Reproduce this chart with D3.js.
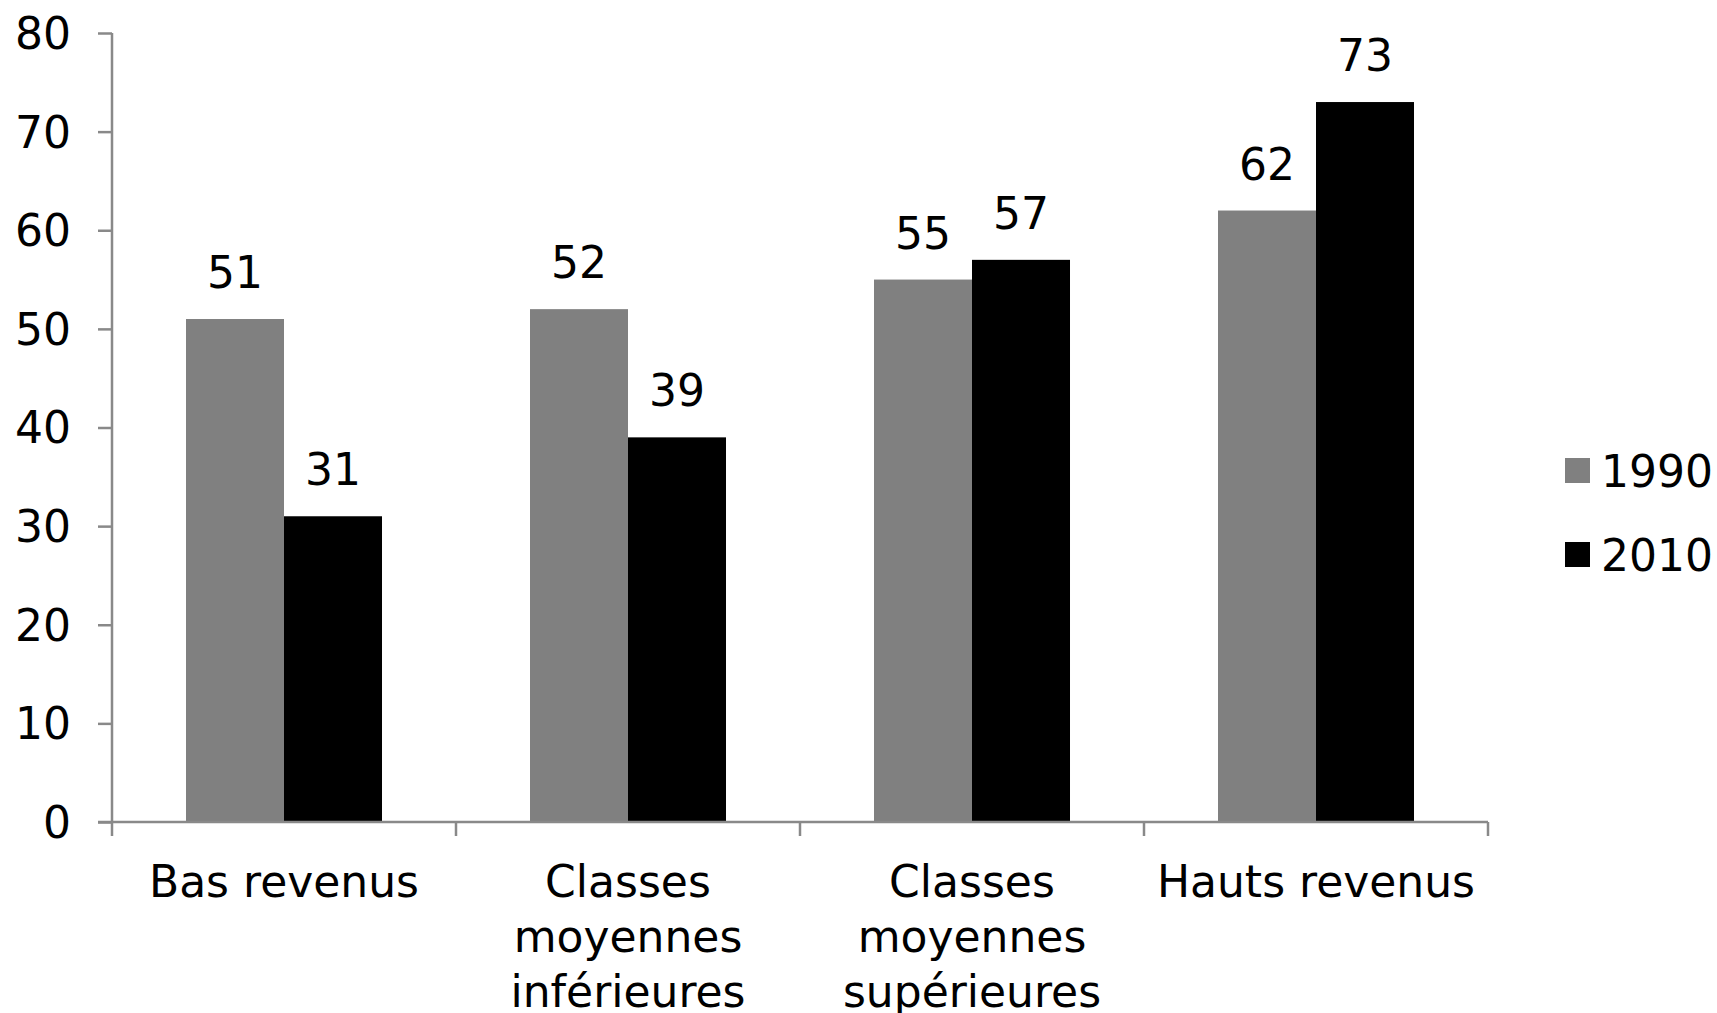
<!DOCTYPE html>
<html>
<head>
<meta charset="utf-8">
<script src="https://cdn.jsdelivr.net/npm/d3@7"></script>
<style>
  html, body { margin: 0; padding: 0; background: #fff; }
  svg { display: block; font-family: "DejaVu Sans", Verdana, sans-serif; }
</style>
</head>
<body>
<svg id="chart" width="1717" height="1013"></svg>
<script>
// Income groups and their values for the two years
const categories = ["Bas revenus", "Classes moyennes inférieures", "Classes moyennes supérieures", "Hauts revenus"];
const categoryLines = [["Bas revenus"], ["Classes", "moyennes", "inférieures"], ["Classes", "moyennes", "supérieures"], ["Hauts revenus"]];
const series = ["1990", "2010"];
const values1990 = [51, 52, 55, 62];
const values2010 = [31, 39, 57, 73];
const yTicks = [0, 10, 20, 30, 40, 50, 60, 70, 80];
const seriesColors = ["#808080", "#000000"];

(function () {
  const svg = d3.select("#chart");
  const axisColor = "#898989";
  const fontSize = 44;

  const plotLeft = 112, plotRight = 1488, plotTop = 33, plotBottom = 822;

  const x0 = d3.scaleBand().domain(categories).range([plotLeft, plotRight]).padding(0);
  const x1 = d3.scaleBand().domain(series).range([0, x0.bandwidth()]).paddingInner(0).paddingOuter(0.755);
  const y = d3.scaleLinear().domain([0, 80]).range([plotBottom, plotTop]);
  const color = d3.scaleOrdinal().domain(series).range(seriesColors);

  const rows = categories.map((c, i) => ({ category: c, values: [
    { key: "1990", value: values1990[i] },
    { key: "2010", value: values2010[i] }
  ]}));

  // Bars
  const groups = svg.append("g").selectAll("g")
    .data(rows).join("g")
    .attr("transform", d => `translate(${x0(d.category)},0)`);

  groups.selectAll("rect")
    .data(d => d.values).join("rect")
    .attr("x", d => x1(d.key))
    .attr("y", d => y(d.value))
    .attr("width", x1.bandwidth())
    .attr("height", d => y(0) - y(d.value))
    .attr("fill", d => color(d.key));

  // Value labels above bars
  groups.selectAll("text.val")
    .data(d => d.values).join("text")
    .attr("class", "val")
    .attr("x", d => x1(d.key) + x1.bandwidth() / 2)
    .attr("y", d => y(d.value) - 31)
    .attr("text-anchor", "middle")
    .attr("font-size", fontSize)
    .attr("fill", "#000")
    .text(d => d.value);

  // Y axis
  const yAxis = svg.append("g")
    .attr("transform", `translate(${plotLeft},0)`)
    .call(d3.axisLeft(y).tickValues(yTicks).tickSize(14).tickPadding(27));
  yAxis.select(".domain").attr("stroke", axisColor).attr("stroke-width", 2.5)
    .attr("d", `M0,${plotTop}V${plotBottom}`);
  yAxis.selectAll(".tick line").attr("stroke", axisColor).attr("stroke-width", 2.5);
  yAxis.selectAll(".tick text")
    .attr("font-size", fontSize).attr("fill", "#000")
    .attr("font-family", "DejaVu Sans, Verdana, sans-serif")
    .attr("dy", "0.35em");

  // X axis with tick marks at category boundaries
  const xAxis = svg.append("g")
    .attr("transform", `translate(0,${plotBottom})`)
    .call(d3.axisBottom(x0).tickSize(0).tickFormat(""));
  xAxis.select(".domain").attr("stroke", axisColor).attr("stroke-width", 2.5)
    .attr("d", `M${plotLeft - 14},0H${plotRight}`);
  xAxis.selectAll(".tick").remove();

  const boundaries = categories.map(c => x0(c)).concat([x0(categories[categories.length - 1]) + x0.bandwidth()]);
  xAxis.selectAll("line.bound")
    .data(boundaries).join("line")
    .attr("class", "bound")
    .attr("x1", d => d).attr("x2", d => d)
    .attr("y1", 0).attr("y2", 14)
    .attr("stroke", axisColor).attr("stroke-width", 2.5);

  // Category labels (wrapped)
  const catLabels = svg.append("g").selectAll("text")
    .data(categories).join("text")
    .attr("x", d => x0(d) + x0.bandwidth() / 2)
    .attr("y", plotBottom + 75)
    .attr("text-anchor", "middle")
    .attr("font-size", fontSize)
    .attr("fill", "#000");
  catLabels.each(function (d, i) {
    d3.select(this).selectAll("tspan")
      .data(categoryLines[i]).join("tspan")
      .attr("x", x0(d) + x0.bandwidth() / 2)
      .attr("dy", (t, j) => j === 0 ? 0 : 55)
      .text(t => t);
  });

  // Legend
  const legend = svg.append("g").selectAll("g")
    .data(series).join("g")
    .attr("transform", (d, i) => `translate(1565,${458 + i * 84})`);
  legend.append("rect")
    .attr("width", 25).attr("height", 25)
    .attr("fill", d => color(d));
  legend.append("text")
    .attr("x", 36).attr("y", 29)
    .attr("font-size", fontSize)
    .attr("fill", "#000")
    .text(d => d);
})();
</script>
</body>
</html>
